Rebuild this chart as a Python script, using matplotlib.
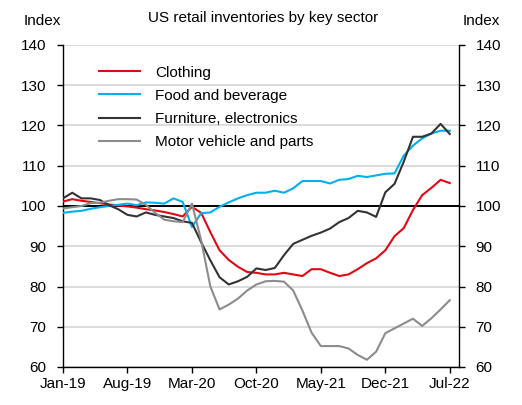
import matplotlib
matplotlib.use("Agg")
import matplotlib.pyplot as plt
from matplotlib import font_manager as fm
import numpy as np

# ---- data (monthly, Jan-19 .. Jul-22) ----
months = ["Jan-19", "Feb-19", "Mar-19", "Apr-19", "May-19", "Jun-19", "Jul-19", "Aug-19", "Sep-19", "Oct-19",
          "Nov-19", "Dec-19", "Jan-20", "Feb-20", "Mar-20", "Apr-20", "May-20", "Jun-20", "Jul-20", "Aug-20",
          "Sep-20", "Oct-20", "Nov-20", "Dec-20", "Jan-21", "Feb-21", "Mar-21", "Apr-21", "May-21", "Jun-21",
          "Jul-21", "Aug-21", "Sep-21", "Oct-21", "Nov-21", "Dec-21", "Jan-22", "Feb-22", "Mar-22", "Apr-22",
          "May-22", "Jun-22", "Jul-22"]

clothing = [101.1, 101.7, 101.3, 101.0, 100.7, 100.4, 100.1, 99.9, 99.6, 99.2,
            98.9, 98.5, 98.0, 97.4, 99.8, 98.3, 93.5, 89.0, 86.6, 84.9,
            83.6, 83.4, 83.0, 83.0, 83.4, 83.0, 82.6, 84.3, 84.3, 83.4,
            82.6, 83.0, 84.3, 85.8, 87.0, 89.0, 92.5, 94.5, 99.0, 102.7,
            104.5, 106.5, 105.7]

food = [98.3, 98.6, 98.8, 99.3, 99.7, 100.0, 100.3, 100.6, 100.2, 100.9,
        100.8, 100.6, 101.9, 101.0, 94.8, 98.2, 98.4, 99.8, 100.9, 101.9,
        102.7, 103.3, 103.3, 103.8, 103.3, 104.4, 106.2, 106.2, 106.2, 105.6,
        106.5, 106.7, 107.5, 107.2, 107.6, 108.0, 108.1, 112.5, 115.0, 116.8,
        118.0, 118.7, 118.7]

furniture = [101.9, 103.3, 101.9, 101.9, 101.5, 100.2, 99.2, 97.8, 97.4, 98.4,
             97.8, 97.4, 97.0, 96.2, 95.8, 91.0, 86.5, 82.3, 80.5, 81.3,
             82.4, 84.5, 84.1, 84.6, 87.8, 90.6, 91.6, 92.6, 93.4, 94.4,
             96.0, 97.0, 98.8, 98.4, 97.3, 103.4, 105.5, 111.0, 117.2, 117.2,
             118.0, 120.4, 117.9]

motor = [99.4, 99.7, 100.0, 100.7, 100.8, 101.3, 101.7, 101.7, 101.6, 100.3,
         98.3, 96.6, 96.2, 96.0, 100.6, 91.5, 80.0, 74.3, 75.5, 77.0,
         79.0, 80.5, 81.3, 81.4, 81.2, 79.0, 74.0, 68.5, 65.2, 65.2,
         65.2, 64.6, 63.0, 61.8, 63.8, 68.4, 69.6, 70.8, 72.0, 70.2,
         72.1, 74.3, 76.6]

series_names = ["Clothing", "Food and beverage", "Furniture, electronics", "Motor vehicle and parts"]
series_colors = ["#e30613", "#00b0f0", "#333333", "#8c8c8c"]
y_ticks = [60, 70, 80, 90, 100, 110, 120, 130, 140]
title = "US retail inventories by key sector"

# ---- font ----
avail = {f.name for f in fm.fontManager.ttflist}
fam = [f for f in ["Liberation Sans Narrow", "Liberation Sans", "DejaVu Sans"] if f in avail]
plt.rcParams["font.family"] = fam
narrow = "Liberation Sans Narrow" in avail
fs = 12 if narrow else 11

fig = plt.figure(figsize=(5.22, 4.05), dpi=100)
ax = fig.add_axes([63 / 522, 1 - 367 / 405, (459 - 63) / 522, (367 - 45) / 405])

x = np.arange(len(months))
for t in y_ticks:
    if t == 100:
        ax.axhline(t, color="black", lw=1.4, zorder=1)
    else:
        ax.axhline(t, color="#d9d9d9", lw=1.3, zorder=0)

for vals, name, col in zip([clothing, food, furniture, motor], series_names, series_colors):
    ax.plot(x, vals, color=col, lw=1.5, label=name, zorder=3)

ax.set_xlim(0, 43)
ax.set_ylim(60, 140)
ax.set_yticks(y_ticks)
ax.set_xticks(x[::7])
ax.set_xticklabels(months[::7])
ax.tick_params(axis="y", which="both", left=True, right=True, labelleft=True, labelright=True,
               direction="out", length=4, width=1, labelsize=fs, pad=8)
ax.tick_params(axis="x", direction="out", length=4, width=1, labelsize=fs, pad=3)
for s in ["left", "right", "bottom"]:
    ax.spines[s].set_linewidth(1.0)
ax.spines["top"].set_visible(False)

leg = ax.legend(loc="upper left", bbox_to_anchor=(0.075, 0.955), frameon=False, fontsize=fs,
                handlelength=2.7, handletextpad=1.0, labelspacing=0.6, borderaxespad=0)

fig.text(263 / 522, 1 - 18 / 405, title, ha="center", va="center", fontsize=fs)
fig.text(42 / 522, 1 - 21 / 405, "Index", ha="center", va="center", fontsize=fs)
fig.text(481 / 522, 1 - 21 / 405, "Index", ha="center", va="center", fontsize=fs)

fig.savefig("out.png", dpi=100)
